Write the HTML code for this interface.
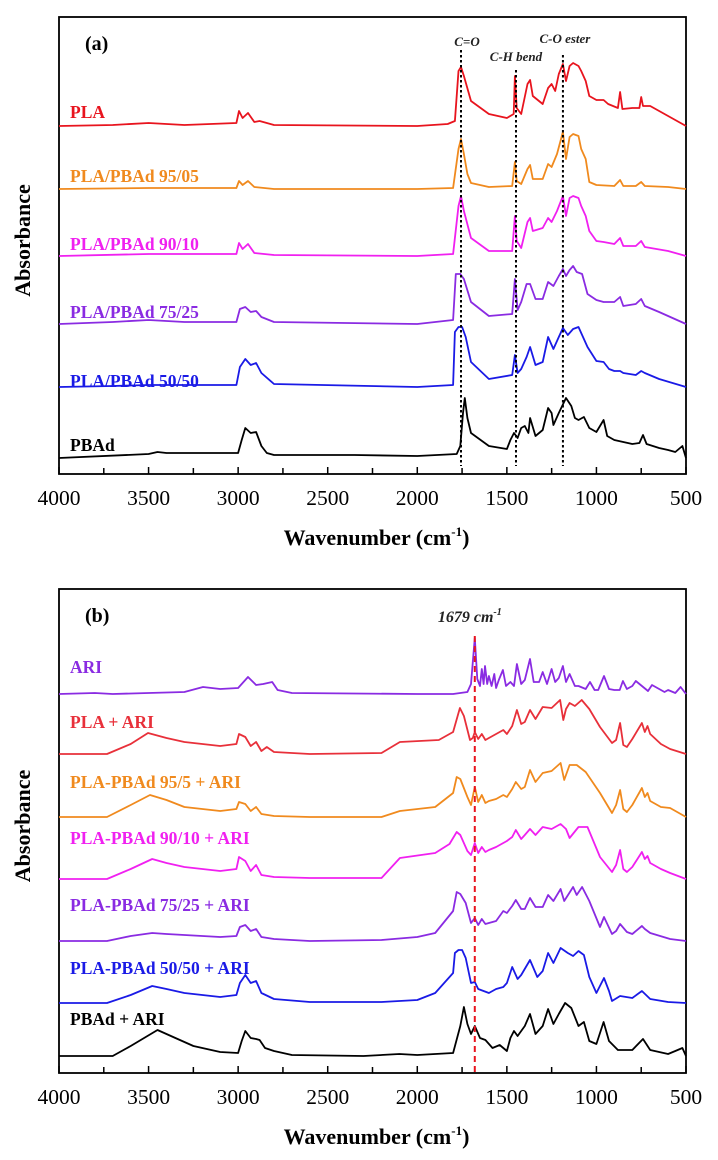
<!DOCTYPE html>
<html><head><meta charset="utf-8">
<style>
html,body{margin:0;padding:0;background:#fff;}
svg{display:block;font-family:"Liberation Serif",serif;}
</style></head>
<body>
<svg id="chart" width="718" height="1160" viewBox="0 0 718 1160"></svg>
<script>
// ---- axis ticks ----
const tickValues = [4000,3500,3000,2500,2000,1500,1000,500];
const minorTickValues = [3750,3250,2750,2250,1750,1250,750];

// ---- panel (a) data ----
const plaWn  = [4000,3700,3500,3300,3010,2995,2975,2945,2910,2880,2800,2000,1830,1790,1770,1756,1740,1700,1600,1500,1462,1455,1445,1420,1385,1370,1355,1300,1270,1250,1230,1210,1187,1170,1150,1130,1100,1085,1060,1040,1000,960,935,880,868,855,800,760,750,740,700,600,500];
const plaAbs = [0,1,3,1,3,15,8,13,4,5,1,0,2,5,55,59,50,25,12,8,12,50,18,12,42,46,30,22,38,42,35,52,62,45,60,63,60,55,45,30,26,26,22,18,34,17,18,18,29,20,20,10,0];
const p95Wn  = [4000,3500,3010,2995,2975,2945,2910,2800,2000,1800,1770,1756,1740,1720,1700,1600,1470,1455,1445,1420,1385,1370,1355,1300,1270,1250,1220,1187,1170,1150,1130,1100,1085,1060,1040,1000,900,868,850,780,750,730,600,500];
const p95Abs = [0,1,1,8,4,8,2,0,0,1,40,50,35,15,6,2,3,27,8,5,20,24,10,10,25,22,35,57,30,52,55,53,40,30,7,4,3,9,3,3,7,3,2,0];
const p90Wn  = [4000,3500,3010,2995,2975,2945,2910,2800,2000,1800,1770,1756,1740,1700,1600,1470,1455,1445,1420,1385,1370,1355,1300,1270,1250,1220,1187,1170,1150,1130,1100,1085,1060,1040,1000,960,900,868,850,780,750,730,600,500];
const p90Abs = [0,2,2,13,7,12,3,1,0,2,50,60,45,18,5,5,40,15,8,34,38,25,28,38,34,45,60,40,58,60,58,50,40,25,15,14,12,18,10,10,15,9,5,0];
const p75Wn  = [4000,3700,3500,3300,3010,2990,2960,2930,2900,2870,2800,2000,1800,1785,1760,1740,1700,1600,1470,1455,1440,1420,1390,1370,1340,1300,1270,1240,1210,1187,1170,1150,1130,1110,1080,1050,1000,960,900,868,850,780,750,730,650,500];
const p75Abs = [0,2,4,2,2,15,17,12,13,7,2,0,4,50,50,45,22,8,10,45,14,22,40,40,25,25,42,38,48,55,48,54,58,52,50,30,24,22,22,27,18,20,25,18,12,0];
const p50Wn  = [4000,3700,3500,3300,3010,2990,2960,2930,2900,2870,2800,2000,1800,1790,1770,1750,1730,1700,1600,1470,1455,1440,1420,1390,1370,1340,1300,1270,1240,1210,1187,1160,1130,1100,1080,1050,1000,960,930,900,868,850,780,750,730,650,500];
const p50Abs = [0,1,2,2,2,20,28,22,24,14,3,0,2,55,60,60,50,25,8,12,32,14,18,30,40,22,25,50,38,50,59,52,58,60,52,40,26,25,18,16,16,14,12,16,14,8,0];
const pbWn   = [4000,3500,3450,3400,3100,3000,2980,2960,2930,2900,2870,2840,2800,2350,2000,1780,1760,1745,1735,1720,1700,1600,1500,1480,1460,1440,1420,1400,1380,1370,1340,1300,1270,1250,1240,1210,1170,1140,1120,1100,1070,1040,1000,960,940,900,800,760,740,720,650,600,560,520,500];
const pbAbs  = [0,4,6,5,5,5,18,30,25,26,12,5,3,3,2,4,12,45,60,40,25,12,9,18,25,20,30,32,25,40,22,28,50,45,33,45,60,52,40,38,41,30,26,38,22,18,14,15,23,14,10,8,6,12,0];

// ---- panel (b) data ----
const ariWn  = [4000,3800,3700,3500,3300,3196,3100,3000,2945,2900,2860,2810,2780,2700,2000,1800,1720,1700,1679,1665,1650,1640,1630,1622,1610,1600,1585,1570,1560,1545,1522,1505,1480,1460,1444,1420,1400,1371,1350,1320,1300,1276,1250,1230,1210,1187,1170,1150,1120,1100,1060,1036,1010,990,958,930,900,870,852,830,800,780,712,690,620,600,560,530,500];
const ariAbs = [0,1,0,1,2,7,5,6,17,9,10,12,4,1,0,0,2,10,56,15,8,25,10,28,10,18,8,20,6,14,24,8,12,8,30,10,14,35,12,12,22,10,25,12,16,28,12,20,8,8,5,12,4,4,18,5,4,4,13,5,8,13,3,9,2,4,1,7,0];
const plaAriWn  = [4000,3732,3600,3503,3400,3300,3100,3010,2995,2960,2930,2900,2870,2840,2800,2600,2200,2097,1880,1800,1762,1740,1706,1690,1679,1660,1640,1620,1600,1560,1520,1500,1470,1444,1420,1400,1371,1340,1300,1250,1203,1185,1170,1150,1120,1082,1040,980,913,890,868,850,830,800,746,730,715,700,640,589,500];
const plaAriAbs = [0,0,10,21,16,12,8,10,20,17,8,12,3,7,2,0,1,12,14,22,46,38,14,16,22,15,20,14,16,20,24,20,28,44,30,32,44,35,47,46,54,34,45,51,48,54,45,27,11,14,31,9,7,15,31,22,28,20,10,5,0];
const p95AriWn  = [4000,3732,3600,3492,3400,3300,3100,3010,2995,2960,2930,2900,2870,2800,2600,2200,2097,1900,1800,1780,1760,1720,1700,1679,1660,1640,1620,1600,1560,1520,1500,1470,1450,1420,1400,1371,1340,1300,1250,1200,1180,1150,1110,1060,980,913,890,868,850,830,800,746,730,715,700,640,589,500];
const p95AriAbs = [0,0,12,22,17,10,6,8,15,13,6,10,3,1,0,0,6,10,24,40,38,20,12,30,15,22,14,16,18,22,20,28,35,28,30,47,35,44,46,54,37,52,52,45,24,4,12,27,8,5,12,29,20,24,16,10,9,0];
const p90AriWn  = [4000,3732,3600,3480,3400,3300,3100,3010,2995,2960,2930,2900,2870,2800,2600,2200,2097,1900,1820,1780,1760,1720,1700,1679,1660,1640,1620,1600,1560,1520,1500,1470,1450,1420,1400,1371,1340,1300,1250,1200,1170,1150,1100,1050,980,913,890,868,850,830,800,746,730,715,700,640,589,500];
const p90AriAbs = [0,0,10,20,16,12,8,10,22,18,8,14,4,2,1,1,21,26,35,47,44,28,24,36,26,32,27,29,32,36,38,42,49,40,44,50,44,52,50,55,50,41,52,52,22,7,14,29,10,7,12,27,20,23,16,10,6,0];
const p75AriWn  = [4000,3732,3600,3480,3400,3300,3100,3010,2990,2960,2930,2900,2870,2800,2600,2200,2000,1900,1800,1780,1760,1730,1700,1679,1660,1640,1620,1600,1560,1520,1500,1470,1450,1420,1400,1371,1340,1300,1270,1240,1200,1180,1130,1110,1080,1040,980,958,913,890,868,830,800,746,730,700,589,500];
const p75AriAbs = [0,0,5,8,7,6,4,5,14,16,10,12,4,2,0,1,4,8,30,49,47,38,18,23,16,22,17,18,20,30,28,35,41,32,32,43,34,34,46,40,52,40,54,46,54,40,14,24,7,10,17,9,7,15,12,8,2,0];
const p50AriWn  = [4000,3732,3600,3480,3400,3300,3100,3010,2990,2960,2930,2900,2870,2800,2600,2200,2000,1900,1800,1790,1770,1750,1730,1700,1679,1660,1600,1560,1520,1500,1470,1440,1420,1371,1330,1300,1270,1240,1200,1160,1130,1100,1070,1040,1000,958,930,913,868,800,746,700,600,500];
const p50AriAbs = [0,0,8,17,14,10,6,8,20,28,20,22,10,4,1,1,3,10,30,50,53,53,45,20,21,14,10,14,16,20,36,24,28,43,26,32,50,40,55,50,47,52,48,26,10,25,12,2,7,5,12,4,1,0];
const pbAriWn  = [4000,3700,3600,3450,3350,3250,3100,3000,2980,2960,2930,2900,2880,2850,2800,2700,2300,2100,2000,1800,1760,1740,1720,1700,1679,1650,1620,1580,1540,1500,1480,1460,1440,1400,1371,1340,1300,1270,1240,1210,1175,1140,1100,1070,1040,1000,960,930,880,800,740,700,600,560,520,500];
const pbAriAbs = [0,0,10,26,18,10,4,3,15,25,18,17,16,8,5,1,0,2,1,3,30,49,32,22,30,18,16,8,11,5,18,25,20,30,42,22,30,47,32,42,53,48,30,34,15,12,34,15,6,6,17,6,2,5,8,0];

const svg = document.getElementById('chart');
const NS = 'http://www.w3.org/2000/svg';
const X0 = 59, X1 = 686;
function xScale(wn){ return X0 + (4000 - wn) / 3500 * (X1 - X0); }
function el(tag, attrs, parent){
  const e = document.createElementNS(NS, tag);
  for (const k in attrs) e.setAttribute(k, attrs[k]);
  (parent || svg).appendChild(e);
  return e;
}
function txt(str, attrs, parent){
  const t = el('text', attrs, parent);
  t.textContent = str;
  return t;
}

function drawPanel(id, top, bottom, letter, series){
  const g = el('g', {});
  
  
  const frame = el('rect', {x:X0, y:top, width:X1-X0, height:bottom-top, fill:'none', stroke:'#000', 'stroke-width':1.8}, g);
  
  
  const xa = el('g', {}, g);
  
  
  tickValues.forEach(v => {
    const x = xScale(v);
    el('line', {x1:x, x2:x, y1:bottom, y2:bottom-7, stroke:'#000', 'stroke-width':1.5}, xa);
    const t = txt(String(v), {x:x, y:bottom+31, 'text-anchor':'middle', 'font-size':21.5}, xa);
    
    
  });
  minorTickValues.forEach(v => {
    const x = xScale(v);
    el('line', {x1:x, x2:x, y1:bottom, y2:bottom-6, stroke:'#000', 'stroke-width':1.5}, xa);
  });
  const title = txt('', {x:(X0+X1)/2 + 4, y:bottom+71, 'text-anchor':'middle', 'font-size':22, 'font-weight':'bold'}, g);
  
  
  title.appendChild(document.createTextNode('Wavenumber (cm'));
  const sup = el('tspan', {dy:-9, 'font-size':13}, title); sup.textContent = '-1';
  const close = el('tspan', {dy:9}, title); close.textContent = ')';
  const yt = txt('Absorbance', {x:0, y:0, 'text-anchor':'middle', 'font-size':22, 'font-weight':'bold', transform:'translate(30,' + ((top+bottom)/2 - 5) + ') rotate(-90)'}, g);
  
  
  const pl = txt(letter, {x:85, y:top+33, 'font-size':20, 'font-weight':'bold'}, g);
  
  
  series.forEach(s => {
    const pts = s.wn.map((w,i) => xScale(w).toFixed(1) + ',' + (s.base - s.abs[i]).toFixed(1)).join(' ');
    const line = el('polyline', {points:pts, fill:'none', stroke:s.color, 'stroke-width':1.8, 'stroke-linejoin':'round'}, g);
    
    
    const lab = txt(s.label, {x:70, y:s.labelY + 6, 'font-size':17.5, 'font-weight':'bold', fill:s.color}, g);
    
    
  });
  return g;
}

const RED='#e8141e', ORANGE='#f08a1e', MAG='#f020f0', VIO='#8a2be2', BLUE='#1a1ae6', BLK='#000';

const ga = drawPanel('a', 17, 474, '(a)', [
  {key:'pla', label:'PLA', color:RED, base:126, labelY:112, wn:plaWn, abs:plaAbs},
  {key:'pla-pbad-95-05', label:'PLA/PBAd 95/05', color:ORANGE, base:189, labelY:176, wn:p95Wn, abs:p95Abs},
  {key:'pla-pbad-90-10', label:'PLA/PBAd 90/10', color:MAG, base:256, labelY:244, wn:p90Wn, abs:p90Abs},
  {key:'pla-pbad-75-25', label:'PLA/PBAd 75/25', color:VIO, base:324, labelY:312, wn:p75Wn, abs:p75Abs},
  {key:'pla-pbad-50-50', label:'PLA/PBAd 50/50', color:BLUE, base:387, labelY:381, wn:p50Wn, abs:p50Abs},
  {key:'pbad', label:'PBAd', color:BLK, base:458, labelY:445, wn:pbWn, abs:pbAbs}
]);

// annotation lines panel a
const annWn = [1756, 1449, 1187];
const annTop = [50, 70, 55];
const annText = ['C=O', 'C-H bend', 'C-O ester'];
const annTextY = [46, 61, 43];
const annTextDx = [6, 0, 2];
annWn.forEach((w,i) => {
  const x = xScale(w);
  const l = el('line', {x1:x, x2:x, y1:annTop[i], y2:466, stroke:'#000', 'stroke-width':2, 'stroke-dasharray':'2.5,2.5'});
  
  
  const t = txt(annText[i], {x:x + annTextDx[i], y:annTextY[i], 'text-anchor':'middle', 'font-size':13, 'font-style':'italic', 'font-weight':'bold', fill:'#222'});
  
  
});

const gb = drawPanel('b', 589, 1073, '(b)', [
  {key:'ari', label:'ARI', color:VIO, base:694, labelY:667, wn:ariWn, abs:ariAbs},
  {key:'pla-ari', label:'PLA + ARI', color:'#e8303a', base:754, labelY:722, wn:plaAriWn, abs:plaAriAbs},
  {key:'pla-pbad-95-5-ari', label:'PLA-PBAd 95/5 + ARI', color:ORANGE, base:817, labelY:782, wn:p95AriWn, abs:p95AriAbs},
  {key:'pla-pbad-90-10-ari', label:'PLA-PBAd 90/10 + ARI', color:MAG, base:879, labelY:838, wn:p90AriWn, abs:p90AriAbs},
  {key:'pla-pbad-75-25-ari', label:'PLA-PBAd 75/25 + ARI', color:VIO, base:941, labelY:905, wn:p75AriWn, abs:p75AriAbs},
  {key:'pla-pbad-50-50-ari', label:'PLA-PBAd 50/50 + ARI', color:BLUE, base:1003, labelY:968, wn:p50AriWn, abs:p50AriAbs},
  {key:'pbad-ari', label:'PBAd + ARI', color:BLK, base:1056, labelY:1019, wn:pbAriWn, abs:pbAriAbs}
]);

const markWn = 1679;
const mx = xScale(markWn);
const ml = el('line', {x1:mx, x2:mx, y1:636, y2:1073, stroke:'#e8141e', 'stroke-width':2, 'stroke-dasharray':'6,4'});


const mt = txt('', {x:mx - 5, y:622, 'text-anchor':'middle', 'font-size':16, 'font-style':'italic', 'font-weight':'bold', fill:'#222'});


mt.appendChild(document.createTextNode(markWn + ' cm'));
const ms = el('tspan', {dy:-7, 'font-size':10}, mt); ms.textContent = '-1';
</script>
</body></html>
